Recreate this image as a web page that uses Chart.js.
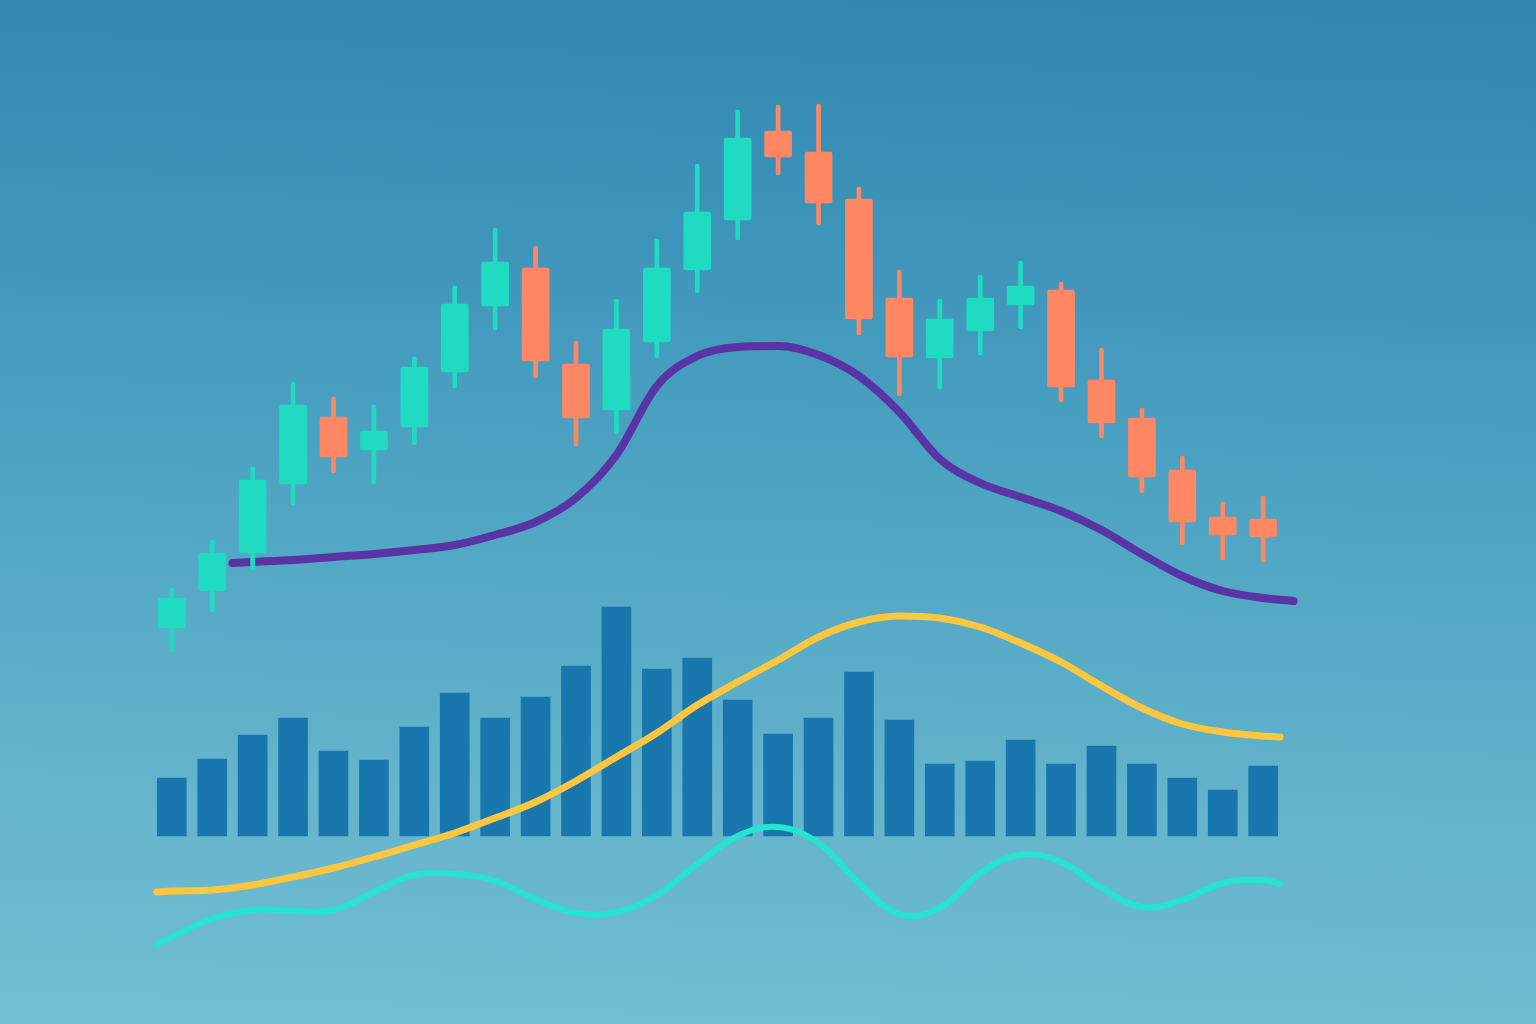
<!DOCTYPE html>
<html>
<head>
<meta charset="utf-8">
<script src="https://cdn.jsdelivr.net/npm/chart.js@4.4.1/dist/chart.umd.min.js"></script>
<style>
  html, body { margin: 0; padding: 0; }
  #wrap {
    width: 1536px;
    height: 1024px;
    background: linear-gradient(182deg, #2F87AE 0%, #3E95BA 25%, #4FA5C3 50%, #62B3CB 75%, #74BFD3 100%);
  }
</style>
</head>
<body>
<div id="wrap"><canvas id="chart" width="1536" height="1024"></canvas></div>
<script>
// candle index 0..27
const opens  = [99, 108.25, 117.75, 135, 151.75, 143.5, 149.25, 163, 179.5, 189, 165, 153.5, 170.5, 188.5, 201, 223.25, 218, 206.25, 181.5, 166.5, 173.25, 179.75, 183.5, 161, 151.5, 138.5, 126.75, 126.25];
const closes = [106.5, 117.75, 136, 154.75, 141.75, 148.25, 164.25, 180, 190.5, 165.75, 151.5, 173.75, 189, 203, 221.5, 216.75, 205.25, 176.25, 166.75, 176.25, 181.5, 184.5, 159.25, 150.25, 136.75, 125.5, 122.25, 121.75];
const highs  = [109, 121, 139.25, 160.5, 156.75, 154.75, 166.75, 184.5, 199, 194.5, 170.75, 181.25, 196.25, 215, 228.5, 229.75, 230, 209.25, 188.5, 181.25, 187.25, 190.75, 185.5, 169, 154, 142, 130.5, 132];
const lows   = [93, 103, 113.5, 129.75, 137.75, 135, 144.75, 159, 173.5, 161.5, 144.5, 147.5, 166.5, 182.75, 196, 212.25, 199.75, 172.25, 157, 158.75, 167.25, 173.75, 155.5, 146.5, 132.75, 119.75, 116, 115.5];
const volumes = [5.8, 7.7, 10.1, 11.8, 8.5, 7.6, 10.9, 14.3, 11.8, 13.9, 17.0, 22.9, 16.7, 17.8, 13.6, 10.2, 11.8, 16.4, 11.6, 7.2, 7.5, 9.6, 7.2, 9.0, 7.2, 5.8, 4.6, 7.0];

// moving average (purple)
const maX = [1.5, 2, 3, 4, 5, 6, 7, 8, 9, 10, 11, 12, 13, 14, 15, 16, 17, 18, 19, 20, 21, 22, 23, 24, 25, 26, 27, 27.75];
const maValues = [115.25, 115.5, 116, 116.75, 117.5, 118.5, 119.75, 122.25, 125.5, 131.5, 142.25, 159.5, 167, 169.25, 169.5, 167.25, 162, 153, 141.25, 135.25, 131.75, 128.25, 123.5, 117.5, 112, 108.25, 106.5, 105.75];

// lower indicators (yellow trend, cyan oscillator)
const indX = [-0.37, 0, 1, 2, 3, 4, 5, 6, 7, 8, 9, 10, 11, 12, 13, 14, 15, 16, 17, 18, 19, 20, 21, 22, 23, 24, 25, 26, 27, 27.42];
const trendValues = [33, 33.25, 33.5, 34.75, 36.75, 39, 41.75, 44.75, 47.75, 51.5, 55.5, 60.75, 66.75, 72.75, 79.75, 85.5, 91, 96.75, 100.5, 102, 101.5, 99.25, 95.25, 90.5, 84.5, 79, 75, 73, 72, 71.75];
const oscValues = [19.75, 21.75, 26.25, 28.5, 28.25, 28.5, 33, 37.25, 37.5, 35.75, 31.25, 27.75, 28, 32.25, 40, 47, 49.25, 45.25, 35.25, 27.5, 29, 37.75, 42.25, 40.5, 34, 29.25, 31, 35.25, 36, 35];

const UP = '#1EDBC1';
const DOWN = '#FF8763';

const idx = opens.map((_, i) => i);
const candleColors = idx.map(i => closes[i] >= opens[i] ? UP : DOWN);

new Chart(document.getElementById('chart'), {
  type: 'bar',
  data: {
    datasets: [
      {
        label: 'Body',
        data: idx.map(i => ({ x: i, y: [opens[i], closes[i]] })),
        backgroundColor: candleColors,
        barThickness: 27,
        borderRadius: 2,
        borderSkipped: false,
        grouped: false,
        order: 1
      },
      {
        label: 'Wick',
        data: idx.map(i => ({ x: i, y: [lows[i], highs[i]] })),
        backgroundColor: candleColors,
        barThickness: 4,
        borderRadius: 2,
        borderSkipped: false,
        grouped: false,
        order: 2
      },
      {
        type: 'line',
        label: 'MA',
        data: maX.map((x, i) => ({ x: x, y: maValues[i] })),
        borderColor: '#5834A4',
        borderWidth: 8,
        borderCapStyle: 'round',
        borderJoinStyle: 'round',
        pointRadius: 0,
        cubicInterpolationMode: 'monotone',
        order: 3
      },
      {
        type: 'line',
        label: 'Trend',
        data: indX.map((x, i) => ({ x: x, y: trendValues[i] })),
        borderColor: '#FFC63F',
        borderWidth: 7,
        borderCapStyle: 'round',
        pointRadius: 0,
        cubicInterpolationMode: 'monotone',
        order: 4
      },
      {
        type: 'line',
        label: 'Oscillator',
        data: indX.map((x, i) => ({ x: x, y: oscValues[i] })),
        borderColor: '#24E4D2',
        borderWidth: 6,
        borderCapStyle: 'round',
        pointRadius: 0,
        tension: 0.4,
        order: 4
      },
      {
        label: 'Volume',
        data: idx.map(i => ({ x: i, y: volumes[i] })),
        backgroundColor: '#1A77AD',
        barThickness: 29,
        grouped: false,
        yAxisID: 'yVol',
        order: 6
      }
    ]
  },
  options: {
    responsive: false,
    animation: false,
    layout: { padding: 0 },
    plugins: {
      legend: { display: false },
      tooltip: { enabled: false }
    },
    scales: {
      x: { type: 'linear', min: -4.25, max: 33.75, offset: false, display: false },
      y: { min: 0, max: 256, display: false },
      yVol: { min: -18.8, max: 83.6, display: false }
    }
  }
});
</script>
</body>
</html>
